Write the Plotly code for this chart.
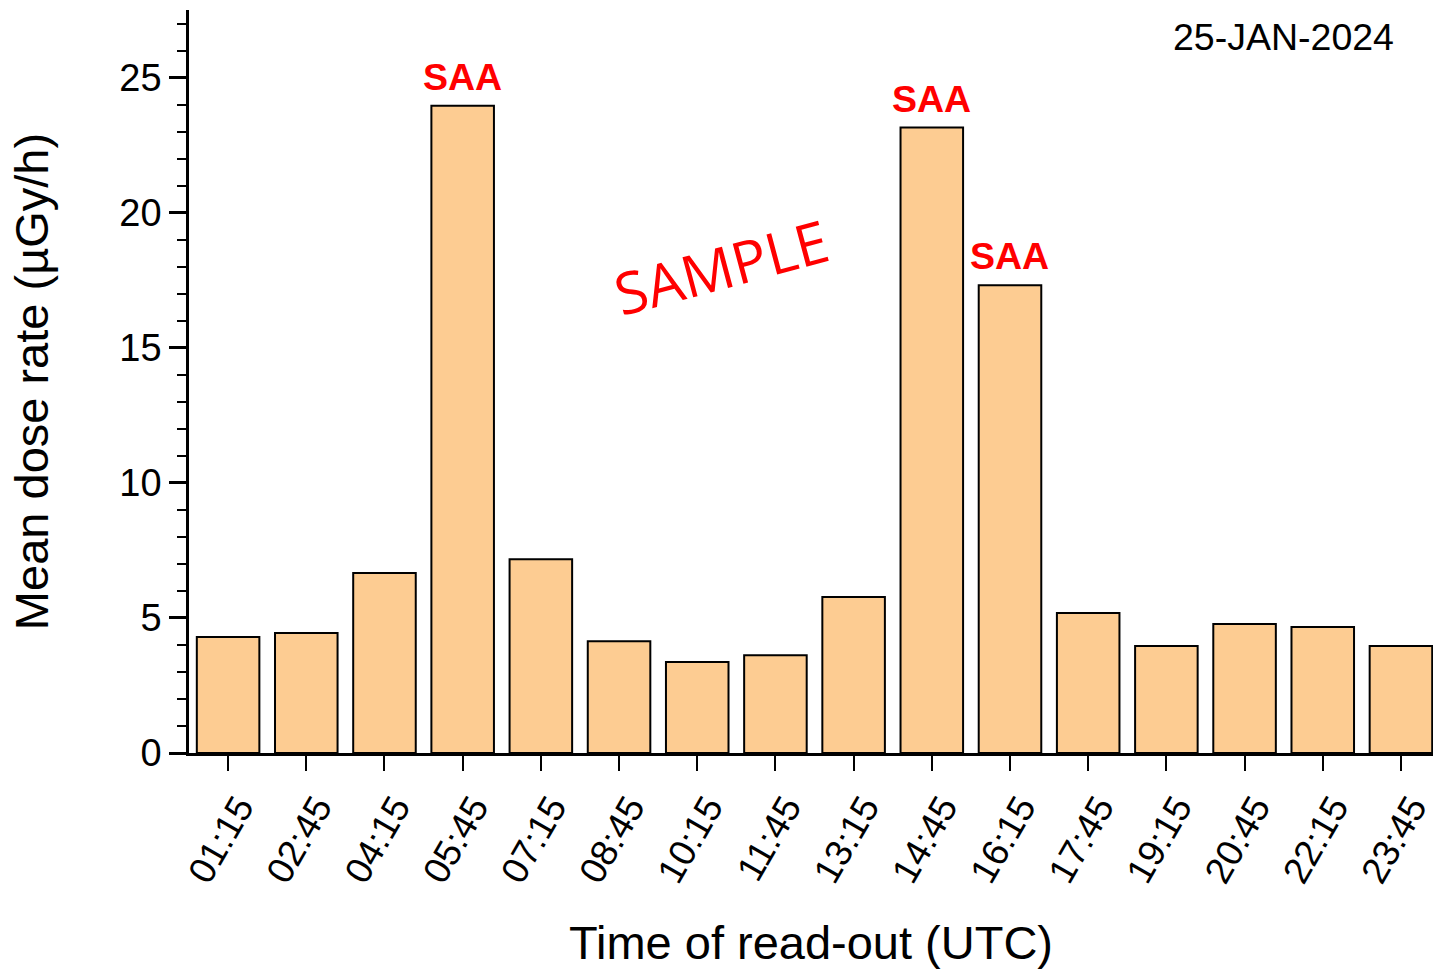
import plotly.graph_objects as go

times = ["01:15", "02:45", "04:15", "05:45", "07:15", "08:45", "10:15", "11:45",
         "13:15", "14:45", "16:15", "17:45", "19:15", "20:45", "22:15", "23:45"]
dose_rate = [4.29, 4.44, 6.66, 23.96, 7.17, 4.14, 3.37, 3.62,
             5.77, 23.15, 17.31, 5.18, 3.96, 4.77, 4.66, 3.96]
saa_times = ["05:45", "14:45", "16:15"]
date_label = "25-JAN-2024"

FONT = "Liberation Sans, Arial, sans-serif"

fig = go.Figure()
fig.add_trace(go.Bar(
    x=times, y=dose_rate, width=0.8,
    marker=dict(color="#FDCC92", line=dict(color="black", width=2)),
))

for t in saa_times:
    v = dose_rate[times.index(t)]
    fig.add_annotation(x=t, y=v, text="<b>SAA</b>", showarrow=False,
                       yanchor="middle", yshift=29,
                       font=dict(family=FONT, size=37.5, color="#FF0000"))

fig.add_annotation(x=13.5, y=26.5, xref="x", yref="y", text=date_label,
                   showarrow=False, font=dict(family=FONT, size=37.5, color="black"))

fig.add_annotation(x=6.3, y=18.0, xref="x", yref="y", text="SAMPLE", textangle=-15,
                   showarrow=False, font=dict(family="Open Sans, sans-serif", size=58, color="#FF0000"))

fig.update_layout(
    width=1434, height=970,
    margin=dict(l=189, r=1, t=10, b=217),
    plot_bgcolor="white", paper_bgcolor="white",
    showlegend=False,
    bargap=0.2,
    font=dict(family=FONT, color="black"),
    xaxis=dict(
        type="category", categoryorder="array", categoryarray=times,
        range=[-0.5, 15.41],
        automargin=False,
        showline=True, linecolor="black", linewidth=2.5,
        ticks="outside", ticklen=15, tickwidth=2, tickcolor="black",
        tickangle=-60, tickfont=dict(family=FONT, size=37),
        ticklabelshift=11,
        showgrid=False, zeroline=False,
        title=dict(text="Time of read-out (UTC)", font=dict(family=FONT, size=47), standoff=38),
    ),
    yaxis=dict(
        range=[0, 27.5],
        tickvals=[0, 5, 10, 15, 20, 25],
        showline=True, linecolor="black", linewidth=2.5,
        ticks="outside", ticklen=17, tickwidth=2.5, tickcolor="black",
        tickfont=dict(family=FONT, size=38),
        minor=dict(dtick=1, ticks="outside", ticklen=9, tickwidth=2, tickcolor="black", showgrid=False),
        showgrid=False, zeroline=False,
        title=dict(text="Mean dose rate (µGy/h)", font=dict(family=FONT, size=47), standoff=56),
    ),
)

fig.write_html("out.html")
